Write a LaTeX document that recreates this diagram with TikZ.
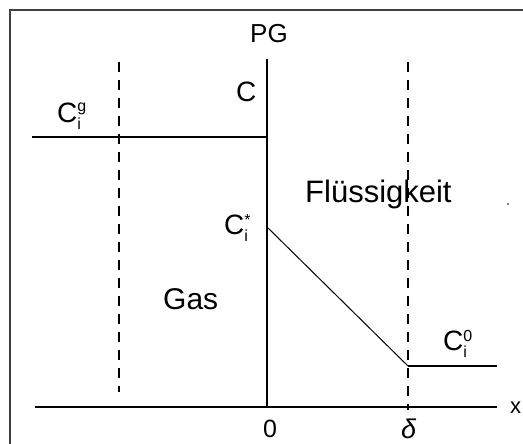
\documentclass[tikz,border=0pt]{standalone}
\usepackage{fontspec}
\setmainfont{Liberation Sans}
\newcommand{\Cscr}[3]{C\rlap{\raisebox{#3}{\fontsize{16}{16}\selectfont #1}}\raisebox{-.25em}{\fontsize{16}{16}\selectfont #2}}
\begin{document}
\begin{tikzpicture}[x=1pt,y=-1pt,
  solidline/.style={line width=1.8pt,black},
  thinline/.style={line width=1pt,black},
  dashline/.style={line width=1.8pt,black,dash pattern=on 10pt off 8pt},
  lbl/.style={inner sep=0pt,anchor=base west,font=\fontsize{28}{28}\selectfont}]
\useasboundingbox (0,0) rectangle (523,444);
\fill[white] (0,0) rectangle (523,444);
\draw[line width=2.5pt,black!75] (523,10) -- (10,10) -- (10,444);
% coordinates
\coordinate (axL) at (35,407);
\coordinate (axR) at (497,407);
\coordinate (pgT) at (267,59);
\coordinate (pgB) at (267,407);
\coordinate (cgL) at (32,137);
\coordinate (cgR) at (267,137);
\coordinate (cs) at (267,227);
\coordinate (dl) at (408,366);
\coordinate (c0R) at (497,366);
\coordinate (d1T) at (119,62);
\coordinate (d1B) at (119,392);
\coordinate (d2T) at (408,62);
\coordinate (d2B) at (408,410);
% lines
\draw[dashline] (d1T) -- (d1B);
\draw[dashline] (d2T) -- (d2B);
\draw[solidline] (axL) -- (axR);
\draw[solidline] (pgT) -- (pgB);
\draw[solidline] (cgL) -- (cgR);
\draw[thinline] (cs) -- (dl);
\draw[solidline] (dl) -- (c0R);
% labels
\node[lbl,font=\fontsize{26}{26}\selectfont] (pg) at (250,43) {PG};
\node[lbl] (c) at (236,102) {C};
\node[lbl] (cg) at (57,123) {\Cscr{g}{i}{.42em}};
\node[lbl] (cst) at (224,234) {\Cscr{*}{i}{.3em}};
\node[lbl] (c0) at (443,350) {\Cscr{0}{i}{.3em}};
\node[lbl,font=\fontsize{31}{31}\selectfont] (fl) at (305,202) {Flüssigkeit};
\node[lbl,font=\fontsize{30}{30}\selectfont] (gas) at (163,309) {Gas};
\node[lbl,font=\fontsize{25}{25}\selectfont] (zero) at (263,437) {0};
\node[lbl,font=\fontsize{27}{27}\selectfont\itshape] (delta) at (401,438) {δ};
\node[lbl,font=\fontsize{22}{22}\selectfont] (xl) at (510,413) {x};
\fill[gray] (507,203) rectangle (509,205);
\end{tikzpicture}
\end{document}
